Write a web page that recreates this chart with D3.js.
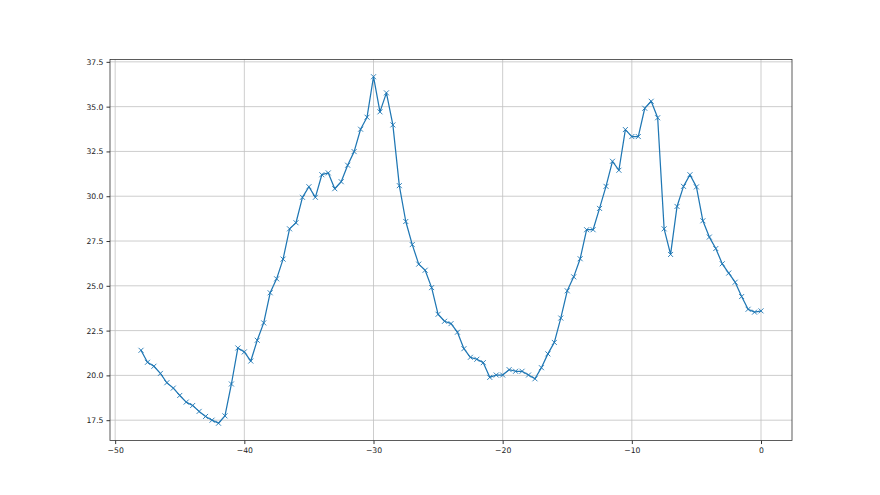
<!DOCTYPE html>
<html>
<head>
<meta charset="utf-8">
<script src="https://cdn.jsdelivr.net/npm/d3@7"></script>
<style>
  html, body { margin: 0; padding: 0; background: #fff; }
  svg { display: block; }
  .tick text { font-family: "DejaVu Sans", sans-serif; font-size: 7.7px; fill: #222; }
</style>
</head>
<body>
<svg id="chart" width="880" height="495"></svg>
<script>
// x positions: -48 .. 0 in steps of 0.5
const xValues = [
  -48, -47.5, -47, -46.5, -46, -45.5, -45, -44.5, -44, -43.5,
  -43, -42.5, -42, -41.5, -41, -40.5, -40, -39.5, -39, -38.5,
  -38, -37.5, -37, -36.5, -36, -35.5, -35, -34.5, -34, -33.5,
  -33, -32.5, -32, -31.5, -31, -30.5, -30, -29.5, -29, -28.5,
  -28, -27.5, -27, -26.5, -26, -25.5, -25, -24.5, -24, -23.5,
  -23, -22.5, -22, -21.5, -21, -20.5, -20, -19.5, -19, -18.5,
  -18, -17.5, -17, -16.5, -16, -15.5, -15, -14.5, -14, -13.5,
  -13, -12.5, -12, -11.5, -11, -10.5, -10, -9.5, -9, -8.5,
  -8, -7.5, -7, -6.5, -6, -5.5, -5, -4.5, -4, -3.5,
  -3, -2.5, -2, -1.5, -1, -0.5, 0
];
const yValues = [
  21.40, 20.73, 20.51, 20.11, 19.59, 19.29, 18.88, 18.51, 18.32, 17.99,
  17.71, 17.50, 17.33, 17.74, 19.52, 21.53, 21.31, 20.80, 21.96, 22.93,
  24.61, 25.39, 26.49, 28.18, 28.52, 29.94, 30.53, 29.94, 31.20, 31.30,
  30.42, 30.81, 31.73, 32.49, 33.74, 34.41, 36.67, 34.71, 35.77, 33.98,
  30.59, 28.59, 27.30, 26.21, 25.87, 24.90, 23.41, 23.02, 22.89, 22.41,
  21.49, 21.01, 20.90, 20.71, 19.89, 20.02, 20.02, 20.32, 20.23, 20.23,
  20.02, 19.81, 20.43, 21.20, 21.84, 23.20, 24.72, 25.50, 26.51, 28.13,
  28.13, 29.32, 30.55, 31.95, 31.45, 33.72, 33.33, 33.33, 34.91, 35.30,
  34.38, 28.18, 26.75, 29.43, 30.55, 31.20, 30.52, 28.63, 27.72, 27.08,
  26.23, 25.71, 25.20, 24.40, 23.69, 23.53, 23.60
];
const xTicks = [-50, -40, -30, -20, -10, 0];
const yTicks = [17.5, 20.0, 22.5, 25.0, 27.5, 30.0, 32.5, 35.0, 37.5];

(function () {
const W = 880, H = 495;
const pL = 0.125 * W, pR = 0.9 * W, pT = 0.12 * H, pB = 0.89 * H;
const color = "#1f77b4";

const data = xValues.map((xv, i) => ({ x: xv, y: yValues[i] }));

const xMin = d3.min(xValues), xMax = d3.max(xValues);
const yMin = d3.min(yValues), yMax = d3.max(yValues);
const xPad = (xMax - xMin) * 0.05, yPad = (yMax - yMin) * 0.05;

const x = d3.scaleLinear().domain([xMin - xPad, xMax + xPad]).range([pL, pR]);
const y = d3.scaleLinear().domain([yMin - yPad, yMax + yPad]).range([pB, pT]);

const svg = d3.select("#chart");
svg.append("rect").attr("width", W).attr("height", H).attr("fill", "#fff");

// grid
const grid = svg.append("g");
grid.selectAll(".gx").data(xTicks).join("line")
  .attr("x1", d => x(d)).attr("x2", d => x(d))
  .attr("y1", pT).attr("y2", pB)
  .attr("stroke", "#c0c0c0").attr("stroke-width", 0.8);
grid.selectAll(".gy").data(yTicks).join("line")
  .attr("x1", pL).attr("x2", pR)
  .attr("y1", d => y(d)).attr("y2", d => y(d))
  .attr("stroke", "#c0c0c0").attr("stroke-width", 0.8);

// line
svg.append("defs").append("clipPath").attr("id", "clip")
  .append("rect").attr("x", pL).attr("y", pT).attr("width", pR - pL).attr("height", pB - pT);

const plot = svg.append("g").attr("clip-path", "url(#clip)");
plot.append("path").datum(data)
  .attr("fill", "none").attr("stroke", color).attr("stroke-width", 1.25)
  .attr("stroke-linejoin", "round").attr("stroke-linecap", "square")
  .attr("d", d3.line().x(d => x(d.x)).y(d => y(d.y)));

// x markers
const m = 2.5;
plot.selectAll(".mk").data(data).join("path")
  .attr("d", d => `M${x(d.x) - m},${y(d.y) - m}L${x(d.x) + m},${y(d.y) + m}M${x(d.x) - m},${y(d.y) + m}L${x(d.x) + m},${y(d.y) - m}`)
  .attr("stroke", color).attr("stroke-width", 0.9).attr("fill", "none");

// axes
const xAxis = d3.axisBottom(x).tickValues(xTicks).tickFormat(d3.format("d")).tickSize(3.5).tickPadding(3);
const yAxis = d3.axisLeft(y).tickValues(yTicks).tickFormat(d3.format(".1f")).tickSize(3.5).tickPadding(3);

const gx = svg.append("g").attr("transform", `translate(0,${pB})`).call(xAxis);
const gy = svg.append("g").attr("transform", `translate(${pL},0)`).call(yAxis);
[gx, gy].forEach(g => {
  g.select(".domain").remove();
  g.selectAll(".tick line").attr("stroke", "#000").attr("stroke-width", 0.8);
});
gx.selectAll(".tick text").text(d => d < 0 ? "\u2212" + Math.abs(d) : d);

// spines
svg.append("rect").attr("x", pL).attr("y", pT).attr("width", pR - pL).attr("height", pB - pT)
  .attr("fill", "none").attr("stroke", "#333").attr("stroke-width", 0.8);
})();
</script>
</body>
</html>
